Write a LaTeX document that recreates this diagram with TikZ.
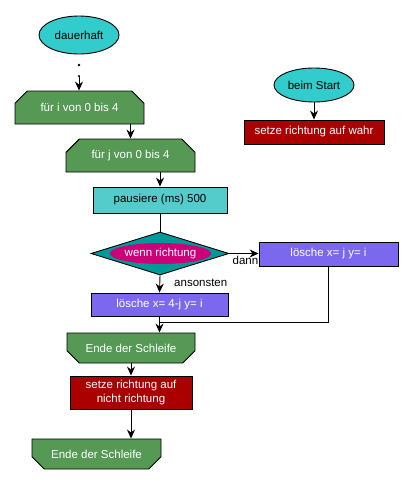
\documentclass[tikz,border=0pt]{standalone}
\usepackage{fontspec}
\setmainfont{Liberation Sans}
\usetikzlibrary{shapes,shapes.geometric,shapes.misc,arrows.meta}
\usetikzlibrary{positioning}

\definecolor{hatgreen}{HTML}{559955}
\definecolor{hatcyan}{HTML}{33CCCC}
\definecolor{waitcyan}{HTML}{55CCCC}
\definecolor{iffteal}{HTML}{009999}
\definecolor{ifmagenta}{HTML}{CC0077}
\definecolor{penpurple}{HTML}{7B68EE}
\definecolor{varred}{HTML}{AA0000}

\begin{document}
\begin{tikzpicture}[x=1pt, y=-1pt, line width=0.9pt,
  every node/.style={font=\fontsize{11.5}{13.5}\selectfont, inner sep=0pt, align=center},
  hat/.style={ellipse, draw, fill=hatcyan, minimum width=80pt},
  loopstart/.style={chamfered rectangle, chamfered rectangle corners={north west,north east},
    chamfered rectangle xsep=8pt, chamfered rectangle ysep=8pt, draw, fill=hatgreen,
    text=white, minimum width=129pt, minimum height=33pt},
  loopend/.style={chamfered rectangle, chamfered rectangle corners={south west,south east},
    chamfered rectangle xsep=8pt, chamfered rectangle ysep=8pt, draw, fill=hatgreen,
    text=white, minimum width=129pt, minimum height=30pt},
  block/.style={rectangle, draw, text=white},
  arr/.style={-{Stealth[length=9pt,width=8pt,inset=3pt]}}]
  \useasboundingbox (0,0) rectangle (413,485);

  % main script
  \node[hat, minimum height=38pt] (forever) at (79,35) {dauerhaft};
  \fill (79,65) circle (1.3pt);
  \coordinate (dot) at (79,76);
  \node[loopstart] (fori) at (79.5,107.5) {für i von 0 bis 4};
  \node[loopstart] (forj) at (130.5,155.5) {für j von 0 bis 4};
  \node[block, fill=waitcyan, text=black, minimum width=134pt, minimum height=26pt]
    (pause) at (160,200) {pausiere (ms) 500};
  \node[diamond, draw, fill=iffteal, minimum width=138pt, minimum height=43pt]
    (cond) at (160,253.5) {};
  \node[ellipse, fill=ifmagenta, text=white, minimum width=91pt, minimum height=21pt]
    (condtxt) at (160.5,253.5) {wenn richtung};
  \node[block, fill=penpurple, minimum width=139pt, minimum height=24pt]
    (penthen) at (328.5,254) {lösche x= j y= i};
  \node[block, fill=penpurple, minimum width=137pt, minimum height=23pt]
    (penelse) at (159.5,304.5) {lösche x= 4-j y= i};
  \node[loopend, minimum width=128pt] (endj) at (131,348) {Ende der Schleife};
  \node[block, fill=varred, minimum width=122pt, minimum height=33pt]
    (flip) at (131,392.5) {setze richtung auf\\nicht richtung};
  \node[loopend] (endi) at (96.5,454) {Ende der Schleife};
  \coordinate (join) at (160,322);

  \fill (dot) circle (1.1pt);
  \draw[arr] (dot) -- (dot |- fori.north);
  \draw[arr] (fori.south -| forj.north) -- (forj.north);
  \draw[arr] (forj.south -| pause.north) -- (pause.north);
  \draw (pause.south) -- (cond.north);
  \draw[arr] (cond.east) -- (cond.east -| penthen.west)
    node[pos=0.55, below=2pt] {dann};
  \draw[arr] (cond.south) -- (penelse.north)
    node[pos=0.45, right=14pt] {ansonsten};
  \draw (penthen.south) |- (join);
  \draw[arr] (penelse.south) -- (penelse.south |- endj.north);
  \draw[arr] (endj.south) -- (flip.north);
  \draw[arr] (flip.south) -- (flip.south |- endi.north);

  % start script
  \node[hat, minimum height=34pt] (start) at (314,85) {beim Start};
  \node[block, fill=varred, minimum width=140pt, minimum height=24pt]
    (setdir) at (314,132) {setze richtung auf wahr};
  \draw[arr] (start.south) -- (setdir.north);
\end{tikzpicture}
\end{document}
